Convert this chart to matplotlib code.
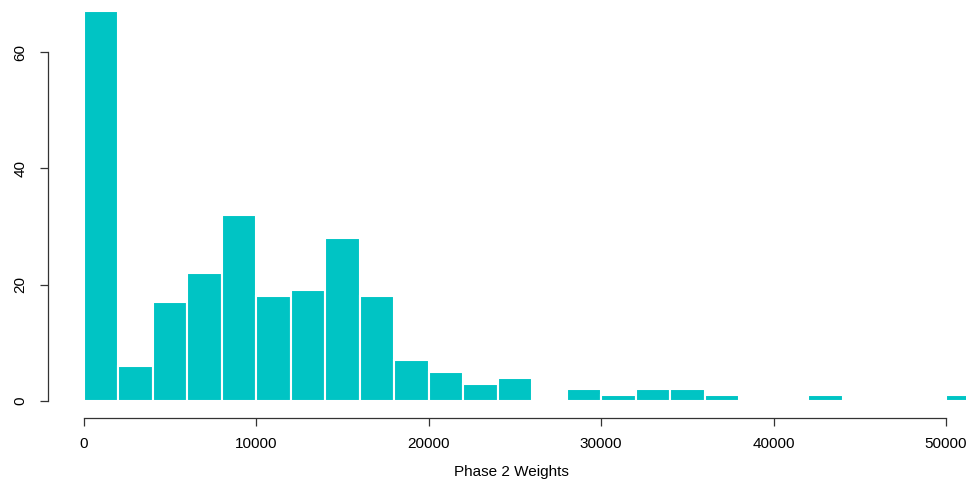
import matplotlib.pyplot as plt
import numpy as np

plt.rcParams['font.family'] = ['Liberation Sans', 'DejaVu Sans']

bin_width = 2000
bin_starts = np.arange(0, 52000, bin_width)
counts = [67, 6, 17, 22, 32, 18, 19, 28, 18, 7, 5, 3, 4, 0,
          2, 1, 2, 2, 1, 0, 0, 1, 0, 0, 0, 1]
x_ticks = [0, 10000, 20000, 30000, 40000, 50000]
y_ticks = [0, 20, 40, 60]

W, H = 966, 483
fig = plt.figure(figsize=(W / 100, H / 100), dpi=100)
# axes placed so that x=0 sits at px 84 and y=0 at px 401
ax = fig.add_axes([84 / W, (H - 401) / H, (W - 84) / W, 401 / H])

ax.bar(bin_starts, counts, width=bin_width, align='edge',
       color='#00C4C4', edgecolor='white', linewidth=1.5)

ax.set_xlim(0, (W - 84) / (862 / 50000))
ax.set_ylim(0, 401 / (349 / 60))

for s in ['top', 'right']:
    ax.spines[s].set_visible(False)
ax.spines['left'].set_position(('outward', 36 * 0.72))
ax.spines['bottom'].set_position(('outward', 17 * 0.72))
ax.spines['left'].set_bounds(0, 60)
ax.spines['bottom'].set_bounds(0, 50000)
for s in ['left', 'bottom']:
    ax.spines[s].set_linewidth(0.9)
    ax.spines[s].set_color('#333333')

ax.set_xticks(x_ticks)
ax.set_xticklabels([str(v) for v in x_ticks])
ax.set_yticks(y_ticks)
ax.set_yticklabels([str(v) for v in y_ticks], rotation=90, va='center')
ax.tick_params(length=6, width=0.9, color='#333333', labelsize=11, pad=8)
ax.tick_params(axis='y', pad=9)

ax.set_xlabel('Phase 2 Weights', fontsize=11)
ax.xaxis.set_label_coords((511 - 84) / (W - 84), -(465 - 401) / 401)

fig.savefig('out.png', dpi=100)
